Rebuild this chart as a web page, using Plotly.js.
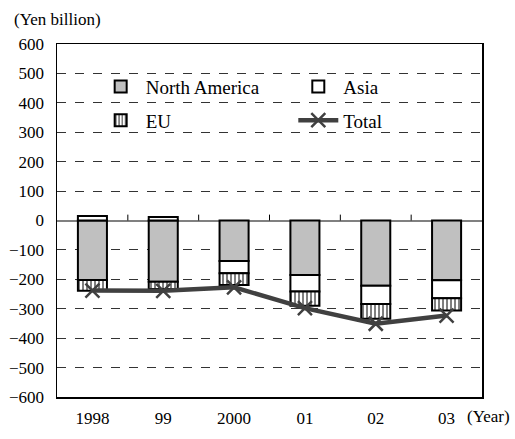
<!DOCTYPE html>
<html>
<head>
<meta charset="utf-8">
<script src="https://cdn.plot.ly/plotly-3.0.1.min.js"></script>
<style>html,body{margin:0;padding:0;background:#fff;}#chart{width:515px;height:439px;}</style>
</head>
<body>
<div id="chart"></div>
<script>
const years = ["1998", "99", "2000", "01", "02", "03"];
const northAmerica = [-202, -208, -138, -185, -222, -203];
const asia = [15, 12, -41, -56, -62, -61];
const eu = [-37, -25, -40, -49, -50, -42];
const total = [-238, -239, -227, -298, -351, -323];

const FONT = "Liberation Serif";

const traces = [
  {type: "bar", name: "North America", x: years, y: northAmerica, width: 0.41,
   marker: {color: "#c0c0c0", line: {color: "#000", width: 2}},
   legend: "legend", legendgroup: "na"},
  {type: "bar", name: "Asia", x: years, y: asia, width: 0.41,
   marker: {color: "#ffffff", line: {color: "#000", width: 2}},
   legend: "legend2", legendgroup: "asia"},
  {type: "bar", name: "EU", x: years, y: eu, width: 0.41,
   marker: {color: "#ffffff", line: {color: "#000", width: 2},
            pattern: {shape: "|", fgcolor: "#000", bgcolor: "#fff", size: 4, solidity: 0.25}},
   legend: "legend", legendgroup: "eu"},
  {type: "scatter", mode: "lines+markers", name: "Total", x: years, y: total,
   line: {color: "#404040", width: 4.5},
   marker: {symbol: "x-thin-open", size: 14, line: {color: "#404040", width: 2.5}, color: "#404040"},
   legend: "legend2", legendgroup: "tot"}
];

const shapes = [
  {type: "rect", xref: "paper", yref: "paper", x0: 0.054, x1: 0.972, y0: 0.72, y1: 0.96,
   fillcolor: "#fff", line: {width: 0}, layer: "between"}
];
for (let i = 0; i < years.length - 1; i++) {
  shapes.push({type: "line", xref: "x", yref: "y", x0: i + 0.5, x1: i + 0.5, y0: 0, y1: 20,
               line: {color: "#000", width: 1}});
}

const layout = {
  width: 515, height: 439,
  margin: {l: 57, r: 33, t: 44, b: 42},
  paper_bgcolor: "#fff", plot_bgcolor: "#fff",
  barmode: "relative",
  font: {family: FONT, size: 17, color: "#000"},
  xaxis: {type: "category", range: [-0.5, 5.5], showline: true, mirror: true,
          linecolor: "#000", linewidth: 1.5, ticks: "", showgrid: false,
          ticklabelstandoff: 5, tickfont: {family: FONT, size: 17}},
  yaxis: {range: [-600, 600], dtick: 100, showline: true, mirror: true,
          linecolor: "#000", linewidth: 1.5, ticks: "",
          showgrid: true, gridcolor: "#333", griddash: "dash", gridwidth: 1,
          zeroline: true, zerolinecolor: "#808080", zerolinewidth: 2,
          ticklabelstandoff: 8, tickfont: {family: FONT, size: 17}},
  legend: {x: 0.091, y: 0.933, xanchor: "left", yanchor: "top", bgcolor: "rgba(0,0,0,0)",
           font: {family: FONT, size: 19}, tracegroupgap: 6, itemwidth: 40},
  legend2: {x: 0.556, y: 0.933, xanchor: "left", yanchor: "top", bgcolor: "rgba(0,0,0,0)",
            font: {family: FONT, size: 19}, tracegroupgap: 6, itemwidth: 40},
  shapes: shapes,
  annotations: [
    {text: "(Yen billion)", xref: "paper", yref: "paper", x: -0.105, y: 1.07,
     xanchor: "left", yanchor: "middle", showarrow: false, font: {family: FONT, size: 17}},
    {text: "(Year)", xref: "paper", yref: "paper", x: 1.07, y: -0.055,
     xanchor: "right", yanchor: "middle", showarrow: false, font: {family: FONT, size: 17}}
  ],
  showlegend: true
};

Plotly.newPlot("chart", traces, layout, {displayModeBar: false, staticPlot: true});
</script>
</body>
</html>
